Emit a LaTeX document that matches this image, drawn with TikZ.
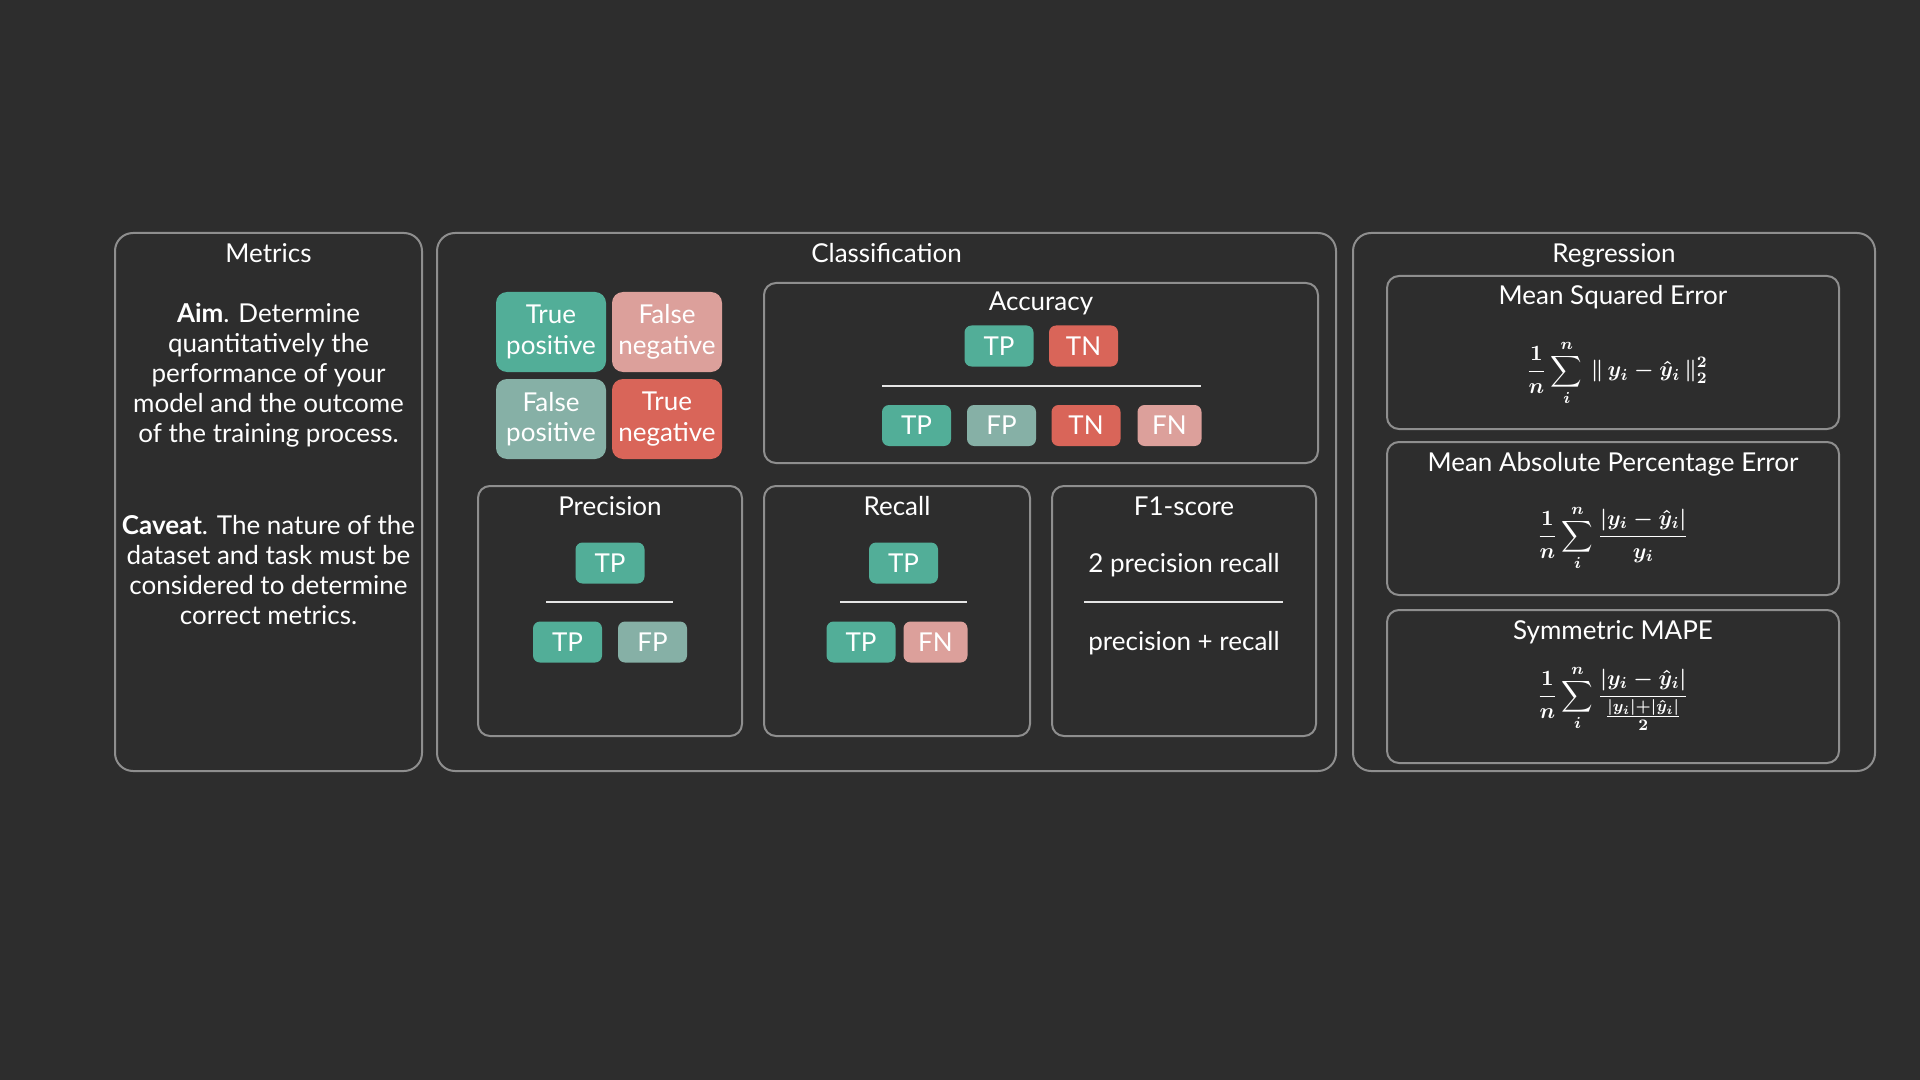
\documentclass[tikz,border=0pt]{standalone}
\usepackage{amsmath}
\usepackage{fontspec}
\setmainfont{Lato}
\definecolor{bgdark}{HTML}{2D2D2D}
\definecolor{panelgray}{HTML}{8E8E8E}
\definecolor{tpcol}{HTML}{52AE98}
\definecolor{fpcol}{HTML}{86B0A6}
\definecolor{tncol}{HTML}{D96559}
\definecolor{fncol}{HTML}{DCA09B}
\newcommand\txtsz{\fontsize{13}{15}\selectfont}
\newcommand\mathsz{\fontsize{11.2}{13}\selectfont\boldmath}
\begin{document}
\begin{tikzpicture}[x=0.5pt,y=-0.5pt,
    every node/.style={text=white,font=\txtsz},
    panel/.style={draw=panelgray,line width=1pt,rounded corners=9pt},
    subpanel/.style={draw=panelgray,line width=1pt,rounded corners=6pt},
    title/.style={anchor=base},
    cell/.style={rounded corners=3.5pt,minimum width=34.5pt,minimum height=20.5pt,inner sep=0pt},
    square/.style={rounded corners=5.5pt,minimum width=55pt,minimum height=40pt,inner sep=0pt,align=center,font=\fontsize{13}{15.3}\selectfont},
    tp/.style={fill=tpcol},fp/.style={fill=fpcol},tn/.style={fill=tncol},fn/.style={fill=fncol},
    fncell/.style={fill=fncol,minimum width=32pt},
    fracline/.style={draw=white!90!black,line width=1.2pt},
    formula/.style={font=\mathsz}]
  % background fixes the page too
  \fill[bgdark] (0,0) rectangle (1920,1080);

  % the three columns
  \node[panel,minimum width=153.5pt,minimum height=269pt] (metrics) at (268.5,502) {};
  \node[panel,minimum width=449.5pt,minimum height=269pt] (classif) at (886.5,502) {};
  \node[panel,minimum width=261pt,minimum height=269pt] (regress) at (1614,502) {};
  \node[title] (metricsT) at (268.5,263) {Metrics};
  \node[title] (classifT) at (886.5,263) {Classification};
  \node[title] (regressT) at (1614,263) {Regression};

  \node[align=center] (aim) at (268.5,375) {\textbf{Aim}. Determine\\quantitatively the\\performance of your\\model and the outcome\\of the training process.};
  \node[align=center] (caveat) at (268.5,570) {\textbf{Caveat}. The nature of the\\dataset and task must be\\considered to determine\\correct metrics.};

  % confusion matrix
  \node[square,tp] (sqTP) at (551,332) {True\\positive};
  \node[square,fn] (sqFN) at (667,332) {False\\negative};
  \node[square,fp] (sqFP) at (551,419) {False\\positive};
  \node[square,tn] (sqTN) at (667,419) {True\\negative};

  % accuracy
  \node[subpanel,minimum width=277pt,minimum height=90pt] (acc) at (1041,373) {};
  \node[title] (accT) at (1041,311) {Accuracy};
  \foreach \na/\xx/\yy/\st/\tx in {accA/999/346/tp/TP,accB/1083.5/346/tn/TN,
      accC/916.5/425.5/tp/TP,accD/1001.5/425.5/fp/FP,accE/1086/425.5/tn/TN,accF/1169.5/425.5/fncell/FN}{
    \node[cell,\st] (\na) at (\xx,\yy) {\tx};};
  \coordinate (accL) at (882,386);
  \coordinate (accR) at (1201,386);
  \draw[fracline] (accL) -- (accR);

  % precision, recall, f1
  \node[subpanel,minimum width=132pt,minimum height=125pt] (prec) at (610,611) {};
  \node[subpanel,minimum width=133pt,minimum height=125pt] (rec) at (897,611) {};
  \node[subpanel,minimum width=132pt,minimum height=125pt] (fone) at (1184,611) {};
  \node[title] (precT) at (610,515) {Precision};
  \node[title] (recT) at (897,515) {Recall};
  \node[title] (foneT) at (1184,515) {F1-score};
  \foreach \na/\xx/\yy/\st/\tx in {precA/610/563/tp/TP,precB/567.5/642/tp/TP,precC/652.5/642/fp/FP,
      recA/903.5/563/tp/TP,recB/861/642/tp/TP,recC/935.5/642/fncell/FN}{
    \node[cell,\st] (\na) at (\xx,\yy) {\tx};};
  \coordinate (precL) at (546,602); \coordinate (precR) at (673,602);
  \coordinate (recL) at (840,602);  \coordinate (recR) at (967,602);
  \coordinate (foneL) at (1084,602); \coordinate (foneR) at (1283,602);
  \draw[fracline] (precL) -- (precR);
  \draw[fracline] (recL) -- (recR);
  \draw[fracline] (foneL) -- (foneR);
  \node (foneNum) at (1184,565) {2 precision recall};
  \node (foneDen) at (1184,643) {precision + recall};

  % regression
  \node[subpanel,minimum width=226pt,minimum height=76.5pt] (mse) at (1613,352.5) {};
  \node[subpanel,minimum width=226pt,minimum height=76.5pt] (mape) at (1613,518.5) {};
  \node[subpanel,minimum width=226pt,minimum height=76.5pt] (smape) at (1613,686.5) {};
  \node[title] (mseT) at (1613,305) {Mean Squared Error};
  \node[title] (mapeT) at (1613,471) {Mean Absolute Percentage Error};
  \node[title] (smapeT) at (1613,639) {Symmetric MAPE};
  \node[formula] (mseF) at (1617,373) {$\displaystyle\frac{1}{n}\sum_{i}^{n}\,\|\,y_i-\hat{y}_i\,\|_2^2$};
  \node[formula] (mapeF) at (1613,538) {$\displaystyle\frac{1}{n}\sum_{i}^{n}\frac{|y_i-\hat{y}_i|}{y_i}$};
  \node[formula] (smapeF) at (1613,698) {$\displaystyle\frac{1}{n}\sum_{i}^{n}\frac{|y_i-\hat{y}_i|}{\frac{|y_i|+|\hat{y}_i|}{2}}$};
\end{tikzpicture}
\end{document}
